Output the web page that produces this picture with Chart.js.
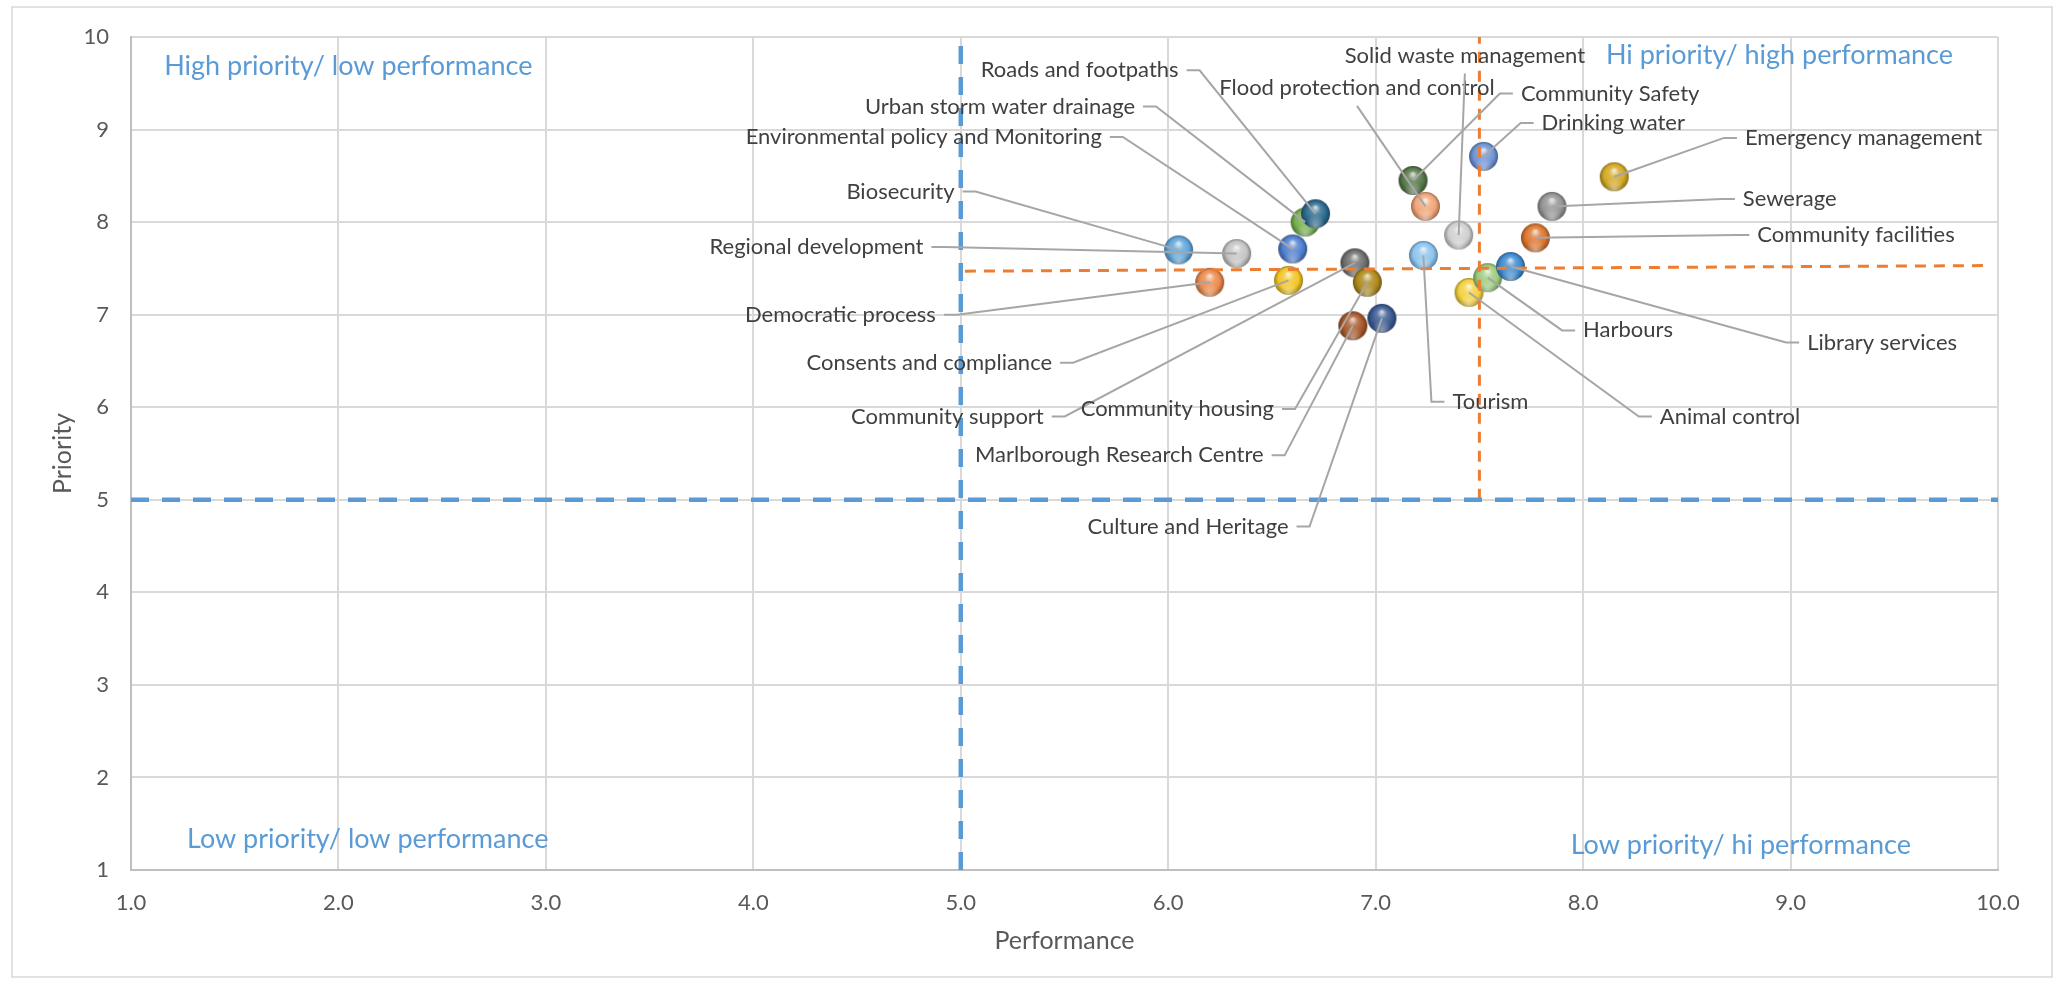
<!DOCTYPE html>
<html>
<head>
<meta charset="utf-8">
<title>Priority vs Performance</title>
<script src="https://cdn.jsdelivr.net/npm/chart.js@4.4.1/dist/chart.umd.min.js"></script>
<style>
  html, body { margin: 0; padding: 0; background: #ffffff; }
  #wrap { width: 2060px; height: 984px; }
</style>
</head>
<body>
<div id="wrap"><canvas id="priority-chart" width="2060" height="984"></canvas></div>
<script>
// survey results: performance (x) vs priority (y) per council activity
const services = [
  'Biosecurity', 'Regional development', 'Environmental policy and Monitoring',
  'Urban storm water drainage', 'Roads and footpaths', 'Democratic process',
  'Consents and compliance', 'Community support', 'Community housing',
  'Marlborough Research Centre', 'Culture and Heritage', 'Community Safety',
  'Flood protection and control', 'Solid waste management', 'Tourism',
  'Drinking water', 'Animal control', 'Harbours', 'Library services',
  'Community facilities', 'Sewerage', 'Emergency management'
];
const performance = [6.05, 6.33, 6.60, 6.66, 6.71, 6.20, 6.58, 6.90, 6.96, 6.89, 7.03,
  7.18, 7.24, 7.40, 7.23, 7.52, 7.45, 7.54, 7.65, 7.77, 7.85, 8.15];
const priority = [7.70, 7.66, 7.71, 8.00, 8.09, 7.35, 7.37, 7.56, 7.35, 6.88, 6.96,
  8.45, 8.17, 7.86, 7.64, 8.71, 7.24, 7.40, 7.52, 7.83, 8.17, 8.49];

const xTickLabels = ['1.0', '2.0', '3.0', '4.0', '5.0', '6.0', '7.0', '8.0', '9.0', '10.0'];
const yTickLabels = ['1', '2', '3', '4', '5', '6', '7', '8', '9', '10'];

// quadrant split lines (blue) and average lines (orange)
const splitPerformance = [[5, 1], [5, 10]];
const splitPriority = [[1, 5], [10, 5]];
const avgPerformance = [[7.5, 5], [7.5, 10]];
const avgPriority = [[5.02, 7.47], [9.93, 7.53]];

const quadrantText = ['High priority/ low performance', 'Hi priority/ high performance',
  'Low priority/ low performance', 'Low priority/ hi performance'];

// styles and label placement, kept apart from the values
const sphereColors = ['#5fa6dc', '#c4c4c4', '#4f7fcf', '#74b04e', '#2b6a8e', '#ea8a4c',
  '#f1c523', '#6e6e6e', '#ad8a1c', '#a7582a', '#3a5a92', '#56784a', '#f0a577', '#cfcfcf',
  '#8cc4ee', '#6f94d6', '#f4d13f', '#9ccc7c', '#3f8bd0', '#dc7630', '#959595', '#d3a925'];
const labelX = [4.97, 4.82, 5.68, 5.84, 6.05, 4.88, 5.44, 5.40, 6.51, 6.46, 6.58,
  7.70, 6.91, 7.43, 7.37, 7.80, 8.37, 8.00, 9.08, 8.84, 8.77, 8.78];
const labelY = [8.33, 7.73, 8.92, 9.25, 9.64, 7.00, 6.48, 5.90, 5.98, 5.48, 4.71,
  9.39, 9.45, 9.80, 6.06, 9.07, 5.90, 6.83, 6.70, 7.86, 8.25, 8.91];
const labelSide = ['left', 'left', 'left', 'left', 'left', 'left', 'left', 'left', 'left', 'left', 'left',
  'right', 'top', 'top', 'right', 'right', 'right', 'right', 'right', 'right', 'right', 'right'];
const quadrantX = [1.16, 8.11, 1.27, 7.94];
const quadrantY = [9.68, 9.80, 1.33, 1.27];

const FONT = 'Lato, "Open Sans", sans-serif';

function shade(hex, amt) {
  const n = parseInt(hex.slice(1), 16);
  let r = (n >> 16) & 255, g = (n >> 8) & 255, b = n & 255;
  const t = amt < 0 ? 0 : 255;
  const p = Math.abs(amt);
  r = Math.round(r + (t - r) * p);
  g = Math.round(g + (t - g) * p);
  b = Math.round(b + (t - b) * p);
  return `rgb(${r}, ${g}, ${b})`;
}

function makeSphere(hex, r) {
  const size = Math.ceil(r * 2 + 4);
  const c = document.createElement('canvas');
  c.width = size;
  c.height = size;
  const g = c.getContext('2d');
  const cx = size / 2, cy = size / 2;
  g.beginPath();
  g.arc(cx, cy, r, 0, Math.PI * 2);
  g.save();
  g.clip();
  const body = g.createRadialGradient(cx, cy - r * 0.45, r * 0.05, cx, cy, r);
  body.addColorStop(0, shade(hex, 0.75));
  body.addColorStop(0.3, shade(hex, 0.2));
  body.addColorStop(0.7, hex);
  body.addColorStop(1, shade(hex, -0.35));
  g.fillStyle = body;
  g.fillRect(0, 0, size, size);
  const glow = g.createRadialGradient(cx, cy + r * 0.85, 0, cx, cy + r * 0.7, r * 0.65);
  glow.addColorStop(0, 'rgba(255,255,255,0.45)');
  glow.addColorStop(1, 'rgba(255,255,255,0)');
  g.fillStyle = glow;
  g.fillRect(0, 0, size, size);
  g.restore();
  return c;
}

const spheres = sphereColors.map(col => makeSphere(col, 14.5));
const points = services.map((s, i) => ({ x: performance[i], y: priority[i] }));
const toXY = arr => arr.map(p => ({ x: p[0], y: p[1] }));

const frame = {
  id: 'frame',
  beforeDraw(chart) {
    const { ctx } = chart;
    ctx.save();
    ctx.fillStyle = '#ffffff';
    ctx.fillRect(0, 0, chart.width, chart.height);
    ctx.strokeStyle = '#d9d9d9';
    ctx.lineWidth = 1.5;
    ctx.strokeRect(12, 7, 2040, 970);
    ctx.restore();
  },
  beforeDatasetsDraw(chart) {
    const { ctx, scales: { x, y } } = chart;
    ctx.save();
    ctx.font = `27px ${FONT}`;
    ctx.fillStyle = '#5b9bd5';
    ctx.textBaseline = 'middle';
    ctx.textAlign = 'left';
    quadrantText.forEach((t, i) => {
      ctx.fillText(t, x.getPixelForValue(quadrantX[i]), y.getPixelForValue(quadrantY[i]));
    });
    ctx.restore();
  }
};

const leaderLines = {
  id: 'leaderLines',
  afterDatasetsDraw(chart) {
    const { ctx, scales: { x, y } } = chart;
    ctx.save();
    ctx.strokeStyle = '#a6a6a6';
    ctx.lineWidth = 2;
    ctx.font = `22px ${FONT}`;
    ctx.fillStyle = '#404040';
    ctx.textBaseline = 'middle';
    services.forEach((name, i) => {
      const px = x.getPixelForValue(performance[i]);
      const py = y.getPixelForValue(priority[i]);
      const lx = x.getPixelForValue(labelX[i]);
      const ly = y.getPixelForValue(labelY[i]);
      ctx.beginPath();
      if (labelSide[i] === 'top') {
        ctx.moveTo(lx, ly + 18);
        ctx.textAlign = 'center';
      } else if (labelSide[i] === 'left') {
        ctx.moveTo(lx + 8, ly);
        ctx.lineTo(lx + 21, ly);
        ctx.textAlign = 'right';
      } else {
        ctx.moveTo(lx - 8, ly);
        ctx.lineTo(lx - 21, ly);
        ctx.textAlign = 'left';
      }
      ctx.lineTo(px, py);
      ctx.stroke();
      ctx.fillText(name, lx, ly);
    });
    ctx.restore();
  }
};

function dashed(data, color, width, dash) {
  return {
    data: toXY(data),
    showLine: true,
    borderColor: color,
    borderWidth: width,
    borderDash: dash,
    pointRadius: 0,
    fill: false,
    order: 0
  };
}

const canvas = document.getElementById('priority-chart');
const ctx = canvas.getContext('2d');
const chart = new Chart(ctx, {
  type: 'scatter',
  data: {
    datasets: [
      dashed(splitPerformance, '#5b9bd5', 4.5, [18, 13]),
      dashed(splitPriority, '#5b9bd5', 4.5, [18, 13]),
      dashed(avgPerformance, '#ed7d31', 3, [11, 8]),
      dashed(avgPriority, '#ed7d31', 3, [11, 8]),
      {
        label: 'Services',
        data: points,
        pointStyle: spheres,
        pointRadius: 14,
        order: 1
      }
    ]
  },
  options: {
    responsive: false,
    animation: false,
    events: [],
    layout: { padding: { left: 0, top: 37, right: 62, bottom: 0 } },
    plugins: {
      legend: { display: false },
      tooltip: { enabled: false }
    },
    scales: {
      x: {
        type: 'linear',
        min: 1,
        max: 10,
        afterFit: s => { s.height = 114; },
        ticks: {
          stepSize: 1,
          padding: 20,
          color: '#595959',
          font: { family: FONT, size: 22 },
          callback: (v) => xTickLabels[v - 1]
        },
        grid: { color: '#d9d9d9', lineWidth: 2, drawTicks: false },
        border: { color: '#bfbfbf', width: 2 },
        title: {
          display: true,
          text: 'Performance',
          color: '#595959',
          font: { family: FONT, size: 25 },
          padding: { top: 0, bottom: 28 }
        }
      },
      y: {
        type: 'linear',
        min: 1,
        max: 10,
        afterFit: s => { s.width = 131; },
        ticks: {
          stepSize: 1,
          padding: 22,
          color: '#595959',
          font: { family: FONT, size: 22 },
          callback: (v) => yTickLabels[v - 1]
        },
        grid: { color: '#d9d9d9', lineWidth: 2, drawTicks: false },
        border: { color: '#bfbfbf', width: 2 },
        title: {
          display: true,
          text: 'Priority',
          color: '#595959',
          font: { family: FONT, size: 25 },
          padding: { top: 48, bottom: 0 }
        }
      }
    }
  },
  plugins: [frame, leaderLines]
});
console.log('chart area', chart.chartArea);
</script>
</body>
</html>
